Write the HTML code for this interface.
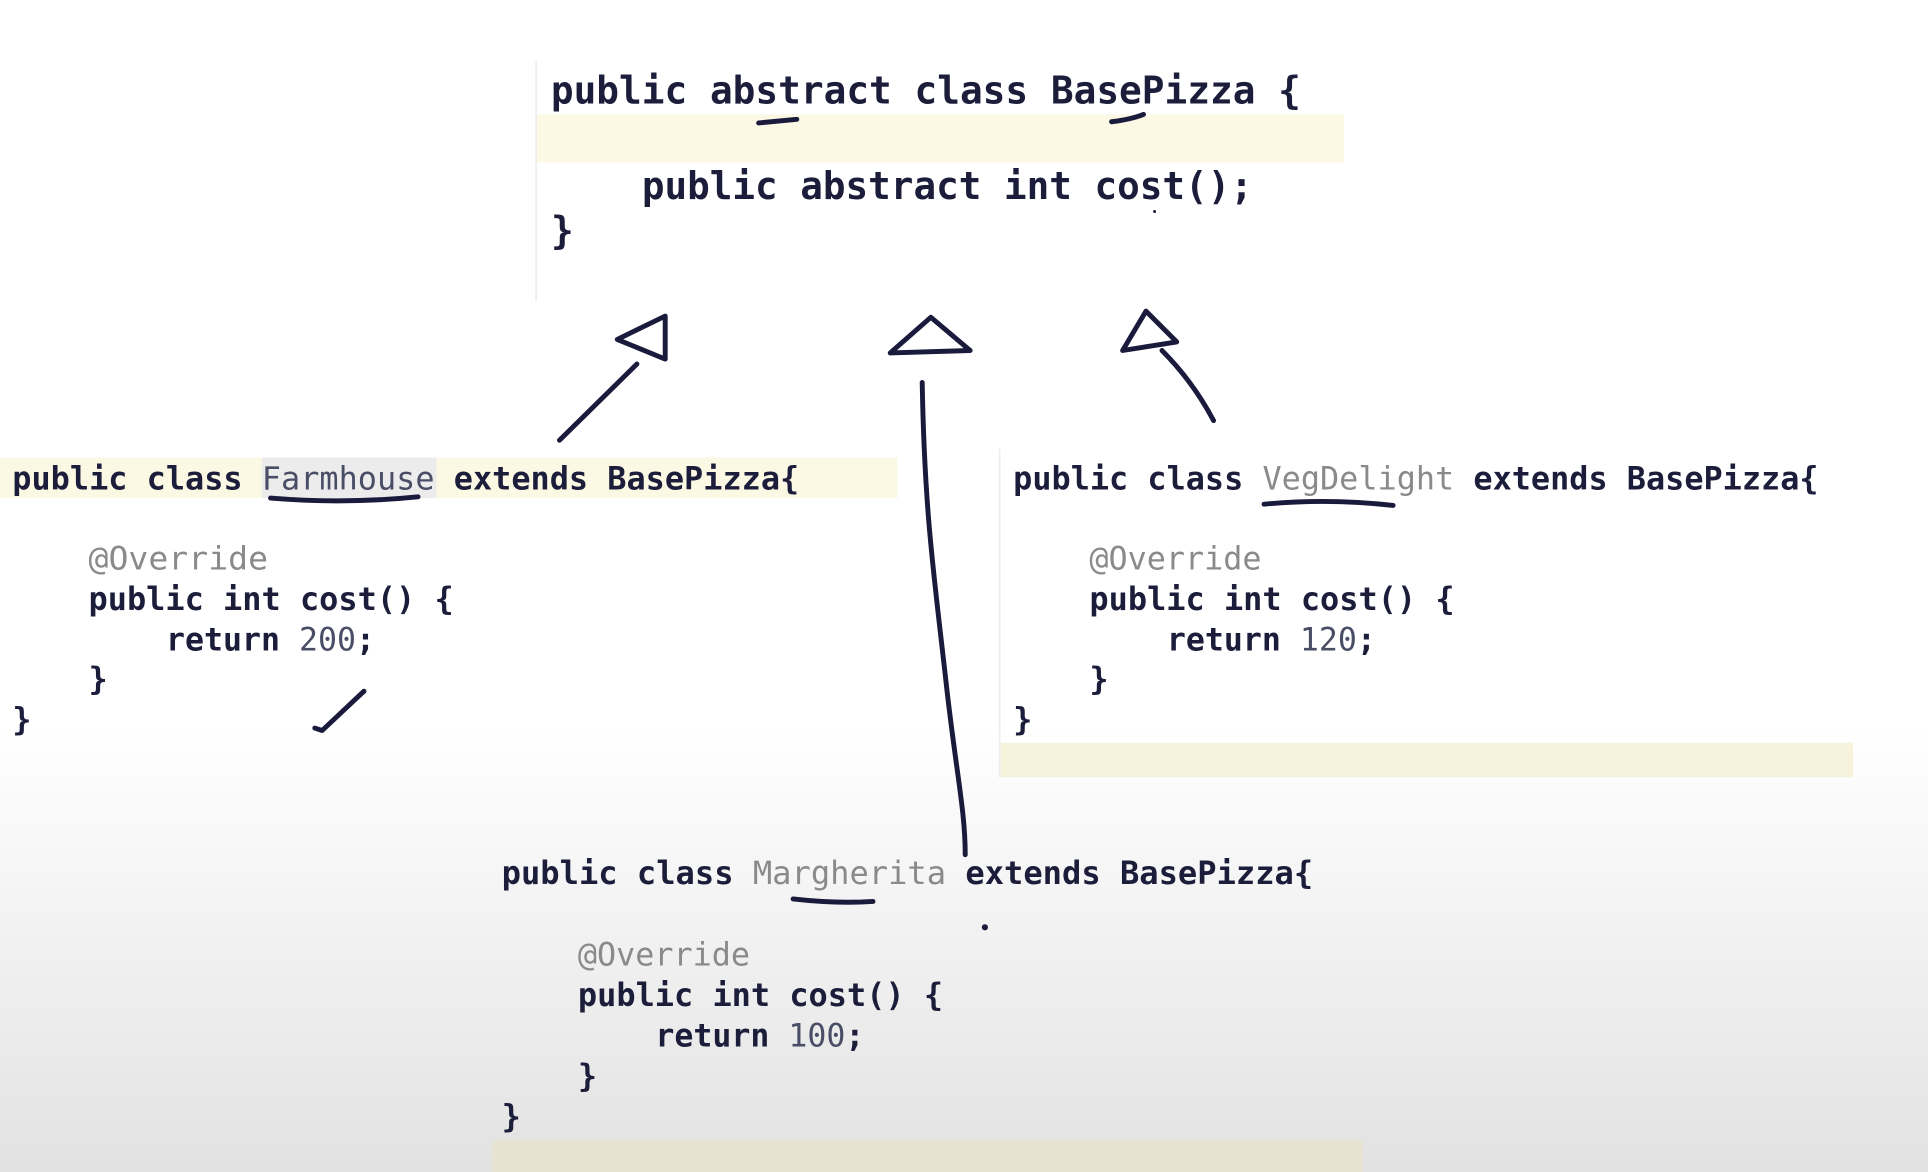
<!DOCTYPE html>
<html><head><meta charset="utf-8"><style>
html,body{margin:0;padding:0;width:1928px;height:1172px;overflow:hidden;background:#fff}
svg{display:block}
text{font-family:"DejaVu Sans Mono","Liberation Mono",monospace;fill:#1c1d3a;font-weight:bold}
.g{fill:#8a8a8a;font-weight:normal}
.n{fill:#4a4d66;font-weight:normal}
</style></head><body>
<svg width="1928" height="1172" viewBox="0 0 1568 953" preserveAspectRatio="none">
<defs><linearGradient id="bg" x1="0" y1="0" x2="0" y2="1">
<stop offset="0" stop-color="#fff"/><stop offset="0.62" stop-color="#fff"/><stop offset="1" stop-color="#e2e2e2"/></linearGradient></defs>
<rect width="1568" height="953" fill="url(#bg)"/>
<rect x="436" y="93" width="657" height="39" fill="#fbf8e4"/>
<rect x="0" y="372" width="730" height="33" fill="#fbf8e4"/>
<rect x="213" y="372" width="142" height="33" fill="#ececec"/>
<rect x="813" y="604" width="694" height="28" fill="#f6f2dc"/>
<rect x="400" y="927" width="708" height="26" fill="#e6e3d3"/>
<line x1="436" y1="50" x2="436" y2="245" stroke="#eee" stroke-width="1.5"/>
<line x1="813" y1="365" x2="813" y2="632" stroke="#eee" stroke-width="1.5"/>
<g font-size="31">
<text x="448" y="84" textLength="610" lengthAdjust="spacingAndGlyphs">public abstract class BasePizza {</text>
<text x="522" y="162" textLength="497" lengthAdjust="spacingAndGlyphs">public abstract int cost();</text>
<text x="448" y="198">}</text>
</g>
<g font-size="26">
<text x="10" y="398" textLength="640" lengthAdjust="spacingAndGlyphs">public class <tspan class="n">Farmhouse</tspan> extends BasePizza{</text>
<text x="72" y="463" class="g" textLength="146" lengthAdjust="spacingAndGlyphs">@Override</text>
<text x="72" y="496" textLength="297" lengthAdjust="spacingAndGlyphs">public int cost() {</text>
<text x="135" y="529" textLength="170" lengthAdjust="spacingAndGlyphs">return <tspan class="n">200</tspan>;</text>
<text x="72" y="561">}</text>
<text x="10" y="594">}</text>

<text x="824" y="398" textLength="655" lengthAdjust="spacingAndGlyphs">public class <tspan class="g">VegDelight</tspan> extends BasePizza{</text>
<text x="886" y="463" class="g" textLength="140" lengthAdjust="spacingAndGlyphs">@Override</text>
<text x="886" y="496" textLength="297" lengthAdjust="spacingAndGlyphs">public int cost() {</text>
<text x="949" y="529" textLength="170" lengthAdjust="spacingAndGlyphs">return <tspan class="n">120</tspan>;</text>
<text x="886" y="561">}</text>
<text x="824" y="594">}</text>

<text x="408" y="719" textLength="660" lengthAdjust="spacingAndGlyphs">public class <tspan class="g">Margherita</tspan> extends BasePizza{</text>
<text x="470" y="785" class="g" textLength="140" lengthAdjust="spacingAndGlyphs">@Override</text>
<text x="470" y="818" textLength="297" lengthAdjust="spacingAndGlyphs">public int cost() {</text>
<text x="533" y="851" textLength="170" lengthAdjust="spacingAndGlyphs">return <tspan class="n">100</tspan>;</text>
<text x="470" y="884">}</text>
<text x="408" y="917">}</text>
</g>
<g fill="none" stroke="#1a1a3c" stroke-width="4" stroke-linecap="round" stroke-linejoin="round">
<path d="M617 100 L648 97"/>
<path d="M904 99 Q920 97 930 93"/>
<path d="M455 358 L518 296"/>
<path d="M541 257 L541 292 L502 276 Z"/>
<path d="M757 258 L724 287 L789 285 Z"/>
<path d="M750 311 C752 420 760 470 770 560 C778 630 785 660 785 695"/>
<path d="M932 253 L913 285 L957 278 Z"/>
<path d="M945 285 Q970 310 987 342"/>
<path d="M220 405 Q280 410 340 404"/>
<path d="M1028 410 Q1080 405 1133 411"/>
<path d="M645 731 Q680 735 710 733"/>
<path d="M256 592 L262 594 L296 562"/>
</g>
<circle cx="801" cy="754" r="2.5" fill="#1a1a3c"/>
<circle cx="939" cy="172" r="1.2" fill="#1a1a3c"/>
</svg>
</body></html>
